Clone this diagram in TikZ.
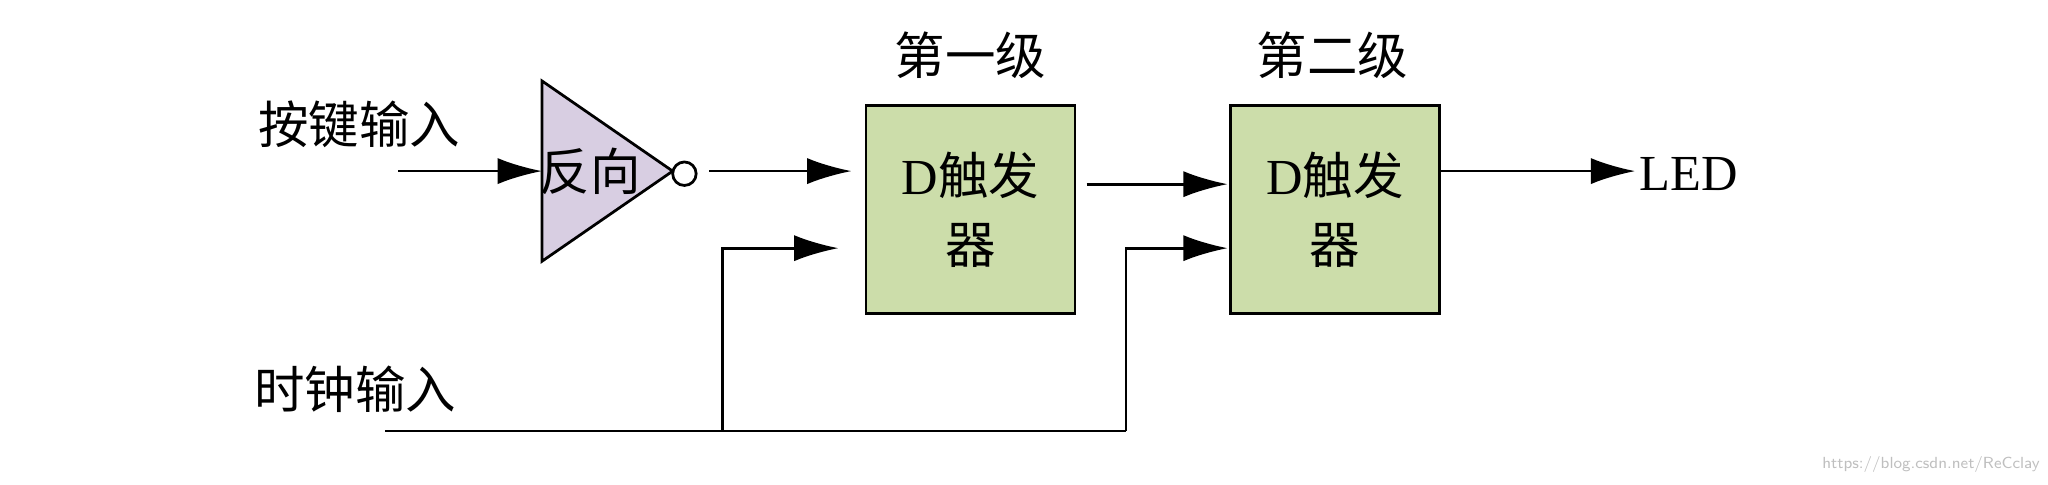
\documentclass[tikz,border=0pt]{standalone}
\usepackage{fontspec}
\setmainfont{Liberation Serif}
\newfontfamily\cjk{Noto Sans CJK SC}
\usetikzlibrary{arrows.meta}
\begin{document}
\begin{tikzpicture}[x=0.02cm,y=-0.02cm,
  lbl/.style={font=\cjk\fontsize{22}{26}\selectfont,inner sep=0},
  ff/.style={draw,line width=1.2pt,fill={rgb,255:red,204;green,221;blue,170},minimum width=3.2cm,minimum height=3.18cm,align=center,font=\fontsize{22}{30}\selectfont,inner sep=0},
  arr/.style={line width=1.2pt,-{Latex[length=0.68cm,width=0.4cm]}},
  wire/.style={line width=1.2pt}]
\useasboundingbox (0,0) rectangle (1568,371);
\node[lbl] (in1) at (275,95) {按键输入};
\node[lbl] (in2) at (272,298) {时钟输入};
\coordinate (a1) at (305,131);
\coordinate (tl) at (415,62);
\coordinate (tb) at (415,200);
\coordinate (tp) at (515,131);
\draw[line width=1.2pt,fill={rgb,255:red,216;green,206;blue,226}] (tl) -- (tp) -- (tb) -- cycle;
\node[lbl] (inv) at (452,131) {反向};
\node[draw,circle,line width=1.2pt,minimum size=0.36cm,inner sep=0,fill=white] (bub) at (524,133) {};
\coordinate (ti) at (415,131);
\draw[arr] (a1) -- (ti);
\coordinate (b1) at (543,131);
\coordinate (b2) at (652,131);
\draw[arr] (b1) -- (b2);
\node[ff] (d1) at (743,160.5) {D\cjk 触发\\\cjk 器};
\node[ff] (d2) at (1022,160.5) {D\cjk 触发\\\cjk 器};
\node[lbl] (s1) at (743,42) {第一级};
\node[lbl] (s2) at (1020,42) {第二级};
\coordinate (c1) at (832,141);
\coordinate (c2) at (940,141);
\draw[arr] (c1) -- (c2);
\coordinate (e1) at (1102,131);
\coordinate (e2) at (1252,131);
\draw[arr] (e1) -- (e2);
\node[font=\fontsize{22}{26}\selectfont,inner sep=0] (led) at (1293,133) {LED};
\coordinate (k0) at (295,330);
\coordinate (k1) at (553,330);
\coordinate (k2) at (862,330);
\draw[wire] (k0) -- (k2);
\coordinate (k1t) at (553,190);
\coordinate (k1e) at (642,190);
\draw[arr] (k1) -- (k1t) -- (k1e);
\coordinate (k2t) at (862,190);
\coordinate (k2e) at (940,190);
\draw[arr] (k2) -- (k2t) -- (k2e);
\node[font=\sffamily\fontsize{7}{8}\selectfont,text=gray!50,anchor=east,inner sep=0] (wm) at (1562,356) {https://blog.csdn.net/ReCclay};
\end{tikzpicture}
\end{document}
